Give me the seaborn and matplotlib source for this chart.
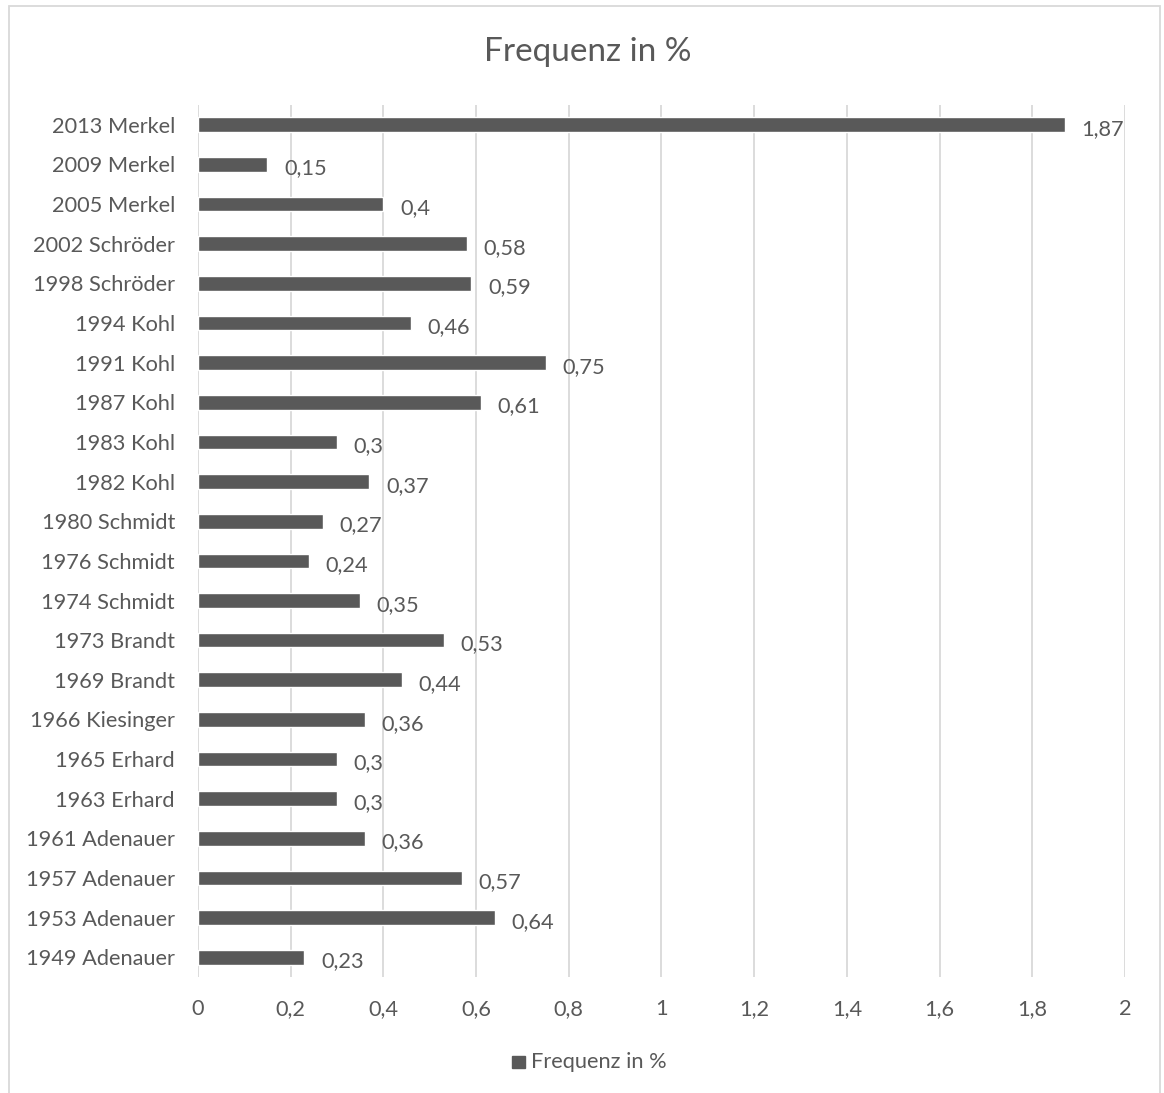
import matplotlib
matplotlib.use("Agg")
import matplotlib.pyplot as plt
import seaborn as sns
import pandas as pd
from matplotlib.patches import Rectangle

categories = [
    "2013 Merkel", "2009 Merkel", "2005 Merkel", "2002 Schröder", "1998 Schröder",
    "1994 Kohl", "1991 Kohl", "1987 Kohl", "1983 Kohl", "1982 Kohl",
    "1980 Schmidt", "1976 Schmidt", "1974 Schmidt", "1973 Brandt", "1969 Brandt",
    "1966 Kiesinger", "1965 Erhard", "1963 Erhard", "1961 Adenauer", "1957 Adenauer",
    "1953 Adenauer", "1949 Adenauer",
]
values = [1.87, 0.15, 0.4, 0.58, 0.59, 0.46, 0.75, 0.61, 0.3, 0.37,
          0.27, 0.24, 0.35, 0.53, 0.44, 0.36, 0.3, 0.3, 0.36, 0.57, 0.64, 0.23]
x_ticks = [0, 0.2, 0.4, 0.6, 0.8, 1, 1.2, 1.4, 1.6, 1.8, 2]
series_name = "Frequenz in %"

df = pd.DataFrame({"Kategorie": categories, "Wert": values})

sns.set_theme(style="white")
plt.rcParams["font.family"] = ["Lato", "DejaVu Sans"]

TEXT = "#595959"
BAR = "#595959"
GRID = "#d9d9d9"
FS = 15.7

fig = plt.figure(figsize=(11.64, 10.93), dpi=100)
ax = fig.add_axes([0.170, 0.106, 0.7965, 0.798])

sns.barplot(data=df, x="Wert", y="Kategorie", color=BAR, saturation=1,
            width=0.37, ax=ax, orient="h")

ax.set_xlim(0, 2)
ax.set_ylim(len(categories) - 0.5, -0.5)
ax.set_xticks(x_ticks)
ax.set_xticklabels([f"{t:g}".replace(".", ",") for t in x_ticks],
                   fontsize=FS, color=TEXT)
ax.tick_params(axis="x", length=0, pad=16)
ax.tick_params(axis="y", length=0, pad=16.5, labelsize=FS, labelcolor=TEXT)
ax.set_xlabel("")
ax.set_ylabel("")
for s in ax.spines.values():
    s.set_visible(False)
ax.grid(axis="x", color=GRID, linewidth=1.3)
ax.set_axisbelow(True)

for i, v in enumerate(values):
    ax.annotate(f"{v:g}".replace(".", ","), xy=(v, i), xytext=(12, -3),
                textcoords="offset points", ha="left", va="center",
                fontsize=FS, color=TEXT)

fig.text(0.505, 0.952, series_name, ha="center", va="center",
         fontsize=24, color=TEXT)

# legend below the plot
fig.patches.append(Rectangle((0.4395, 0.0225), 0.0115, 0.0115,
                             transform=fig.transFigure, color=BAR))
fig.text(0.456, 0.0285, series_name, ha="left", va="center",
         fontsize=FS, color=TEXT)

# chart frame
fig.patches.append(Rectangle((0.0075, -0.01), 0.989, 1.0045, transform=fig.transFigure,
                             fill=False, edgecolor=GRID, linewidth=1.3))

fig.savefig("out.png", dpi=100, facecolor="white")
